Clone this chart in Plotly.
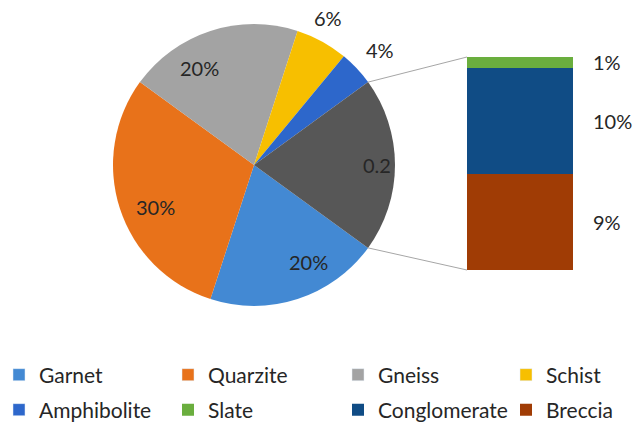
import math
import plotly.graph_objects as go

W, H = 644, 424
FONT = "Lato"
TEXT_COLOR = "#262626"

# Main pie: the last slice ("Other") is broken out into the stacked bar
pie_labels = ["Garnet", "Quarzite", "Gneiss", "Schist", "Amphibolite", "Other"]
pie_main_values = [0.20, 0.30, 0.20, 0.06, 0.04]
pie_colors = ["#4389D3", "#E8721A", "#A3A3A3", "#F7BF00", "#2D67CB", "#575757"]

# Breakdown of "Other", listed bottom to top of the stacked bar
bar_labels = ["Breccia", "Conglomerate", "Slate"]
bar_values = [0.09, 0.10, 0.01]
bar_colors = ["#A03C05", "#104C85", "#6AAE3E"]

# Legend layout (two rows of four)
legend_row1 = ["Garnet", "Quarzite", "Gneiss", "Schist"]
legend_row2 = ["Amphibolite", "Slate", "Conglomerate", "Breccia"]

other_value = round(sum(bar_values), 4)
pie_values = pie_main_values + [other_value]
pie_text = [f"{v:.0%}" for v in pie_main_values] + [f"{other_value:g}"]

# Geometry in pixels
PIE_CX, PIE_CY, PIE_R = 254, 165, 141
BAR_L, BAR_R, BAR_T, BAR_B = 467, 573, 57, 270
LEGEND_TEXT_X = [39, 208, 378, 546]
LEGEND_ROW_Y = [375, 410]

# Data-label placement per slice: radius as a fraction of R, small angular nudge (deg)
label_radius = [0.79, 0.76, 0.79, 1.17, 1.21, 0.87]
label_nudge = [-11, -5, -11, -2, 1, 0]

pie_domain = dict(
    x=[(PIE_CX - PIE_R) / W, (PIE_CX + PIE_R) / W],
    y=[1 - (PIE_CY + PIE_R) / H, 1 - (PIE_CY - PIE_R) / H],
)
bar_xdom = [BAR_L / W, BAR_R / W]
bar_ydom = [1 - BAR_B / H, 1 - BAR_T / H]

# "Other" slice centred on 3 o'clock; slices run clockwise from its lower edge
total = sum(pie_values)
other_share = other_value / total
rotation = 90 + other_share * 360 / 2


def to_paper(angle_deg, radius_px):
    a = math.radians(angle_deg)
    px = PIE_CX + radius_px * math.sin(a)
    py = PIE_CY - radius_px * math.cos(a)
    return px / W, 1 - py / H


fig = go.Figure()

fig.add_trace(go.Pie(
    labels=pie_labels,
    values=pie_values,
    sort=False,
    direction="clockwise",
    rotation=rotation,
    textinfo="none",
    marker=dict(colors=pie_colors, line=dict(width=0)),
    domain=pie_domain,
    showlegend=False,
    hoverinfo="label+percent",
))

annotations = []

# Slice data labels along each slice's bisector
start = rotation
for val, txt, rf, nudge in zip(pie_values, pie_text, label_radius, label_nudge):
    sweep = val / total * 360
    mid = start + sweep / 2 + nudge
    x, y = to_paper(mid, PIE_R * rf)
    annotations.append(dict(
        x=x, y=y, xref="paper", yref="paper", text=txt, showarrow=False,
        xanchor="center", yanchor="middle",
        font=dict(family=FONT, size=20, color=TEXT_COLOR),
    ))
    start += sweep

legend_of = {}
k = 0
for row in (legend_row1, legend_row2):
    for col, name in enumerate(row):
        k += 1
        legend_of[name] = ("legend" if k == 1 else f"legend{k}", col, row is legend_row2)

# Legend-only entries for the pie slices
for name, color in zip(pie_labels, pie_colors):
    if name not in legend_of:
        continue
    fig.add_trace(go.Bar(
        x=[None], y=[None], name=name, marker_color=color,
        legend=legend_of[name][0], hoverinfo="skip",
    ))

# Stacked bar for the breakdown
for name, val, color in zip(bar_labels, bar_values, bar_colors):
    fig.add_trace(go.Bar(
        x=[0], y=[val], name=name, width=1,
        marker=dict(color=color, line=dict(width=0)),
        legend=legend_of[name][0],
        hovertemplate=f"{name}: %{{y:.0%}}<extra></extra>",
    ))

# Value labels to the right of the bar
cum = 0.0
for name, val in zip(bar_labels, bar_values):
    annotations.append(dict(
        x=0.5, y=cum + val / 2, xref="x", yref="y",
        text=f"{val:.0%}", showarrow=False, xanchor="left", xshift=18,
        font=dict(family=FONT, size=20, color=TEXT_COLOR),
    ))
    cum += val

# Connector lines from the "Other" slice edges to the bar corners
shapes = []
for ang, yb in [(rotation - other_share * 360, bar_ydom[1]), (rotation, bar_ydom[0])]:
    x0, y0 = to_paper(ang, PIE_R)
    shapes.append(dict(
        type="line", xref="paper", yref="paper",
        x0=x0, y0=y0, x1=bar_xdom[0], y1=yb,
        line=dict(color="#A6A6A6", width=1),
    ))

legends = {}
for name, (lg, col, second) in legend_of.items():
    legends[lg] = dict(
        orientation="h", xanchor="left", yanchor="middle",
        x=(LEGEND_TEXT_X[col] - 40) / W,
        y=1 - LEGEND_ROW_Y[1 if second else 0] / H,
        font=dict(family=FONT, size=21, color=TEXT_COLOR),
        bgcolor="rgba(0,0,0,0)", borderwidth=0,
    )

fig.update_layout(
    width=W, height=H,
    margin=dict(l=0, r=0, t=0, b=0, autoexpand=False),
    paper_bgcolor="white", plot_bgcolor="white",
    barmode="stack", bargap=0,
    xaxis=dict(domain=bar_xdom, range=[-0.5, 0.5], visible=False, fixedrange=True),
    yaxis=dict(domain=bar_ydom, range=[0, other_value], visible=False, fixedrange=True),
    annotations=annotations,
    shapes=shapes,
    font=dict(family=FONT, color=TEXT_COLOR),
    **legends,
)

fig.write_html("out.html")
